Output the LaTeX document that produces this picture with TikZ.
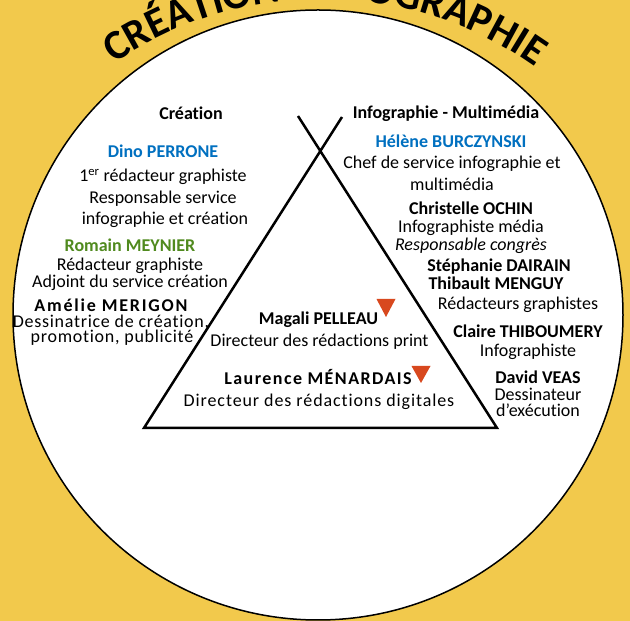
\documentclass[tikz,border=0pt]{standalone}
\usepackage{fontspec}
\setmainfont{Carlito}[Ligatures=CommonOff]
\usetikzlibrary{decorations.text}
\definecolor{bgyellow}{RGB}{242,201,76}
\definecolor{nameblue}{RGB}{0,112,192}
\definecolor{namegreen}{RGB}{80,138,30}
\definecolor{markred}{RGB}{216,72,30}
\newcommand\titlefont{\fontsize{42}{42}\selectfont\bfseries}
\newcommand\bodysize{\fontsize{18}{21}\selectfont}
\begin{document}
\begin{tikzpicture}[x=1pt,y=1pt,
  txt/.style={anchor=base, inner sep=0pt, font=\bodysize},
  pname/.style={anchor=base, inner sep=0pt, font=\bodysize\bfseries},
  marker/.style={fill=markred, draw=none},
  tri/.style={line width=2.5pt, line join=miter}
  ]
\path[fill=bgyellow] (0,0) rectangle (630,621);
\useasboundingbox (0,0) rectangle (630,621);
\begin{scope}
\clip (0,0) rectangle (630,621);
\draw[fill=white, line width=1.5pt] (318,306) circle[radius=305];
\path[decorate, decoration={text along path, text={|\titlefont|CRÉATION}, text align={align=left}}]
  (114.2,557.5) arc[start angle=124.5, end angle=90, radius=366.8];
\path[decorate, decoration={text along path, text={|\titlefont|INFOGRAPHIE}, text align={align=right}}]
  (258.3,616.4) arc[start angle=100, end angle=54.5, radius=366.8];
\end{scope}

% triangle
\coordinate (bl) at (144,193);
\coordinate (br) at (497,193);
\coordinate (tl) at (298,505);
\coordinate (tr) at (342,504);
\draw[tri] (tr) -- (bl) -- (br) -- (tl);

% left column
\node[pname] (creation) at (191,501) {Création};
\node[pname, text=nameblue] (dino) at (163,463) {Dino PERRONE};
\node[txt] (dino1) at (163,439) {1\textsuperscript{er} rédacteur graphiste};
\node[txt] (dino2) at (163,417) {Responsable service};
\node[txt] (dino3) at (165,396) {infographie et création};
\node[pname, text=namegreen] (romain) at (130,369) {Romain MEYNIER};
\node[txt] (romain1) at (130,350) {Rédacteur graphiste};
\node[txt] (romain2) at (130,333) {Adjoint du service création};
\node[pname, font={\bodysize\bfseries\addfontfeature{LetterSpace=10}}] (amelie) at (111,309) {Amélie MERIGON};
\node[txt, font={\bodysize\addfontfeature{LetterSpace=4}}] (amelie1) at (111,293) {Dessinatrice de création,};
\node[txt, font={\bodysize\addfontfeature{LetterSpace=4}}] (amelie2) at (112,278) {promotion, publicité};

% right column
\node[pname] (info) at (446,502) {Infographie - Multimédia};
\node[pname, text=nameblue] (helene) at (451,473) {Hélène BURCZYNSKI};
\node[txt] (helene1) at (452,452) {Chef de service infographie et};
\node[txt] (helene2) at (452,430) {multimédia};
\node[pname] (christelle) at (471,406) {Christelle OCHIN};
\node[txt] (christelle1) at (471,388) {Infographiste média};
\node[txt, font=\bodysize\itshape] (christelle2) at (471,370) {Responsable congrès};
\node[pname] (stephanie) at (499,349) {Stéphanie DAIRAIN};
\node[pname] (thibault) at (496,331) {Thibault MENGUY};
\node[txt] (redac) at (518,311) {Rédacteurs graphistes};
\node[pname] (claire) at (528,283) {Claire THIBOUMERY};
\node[txt] (claire1) at (528,264) {Infographiste};
\node[pname] (david) at (538,237) {David VEAS};
\node[txt] (david1) at (538,220) {Dessinateur};
\node[txt] (david2) at (538,204) {d’exécution};

% centre
\node[pname] (magali) at (318.5,296) {Magali PELLEAU};
\node[txt] (magali1) at (319.5,274) {Directeur des rédactions print};
\node[pname, font={\bodysize\bfseries\addfontfeature{LetterSpace=8}}] (laurence) at (318,236) {Laurence MÉNARDAIS};
\node[txt, font={\bodysize\addfontfeature{LetterSpace=5}}] (laurence1) at (319,214) {Directeur des rédactions digitales};

% markers
\fill[marker] (376.5,322) -- (395.5,322) -- (386,304) -- cycle;
\fill[marker] (411.5,255) -- (430.5,255) -- (421,238) -- cycle;
\end{tikzpicture}
\end{document}
